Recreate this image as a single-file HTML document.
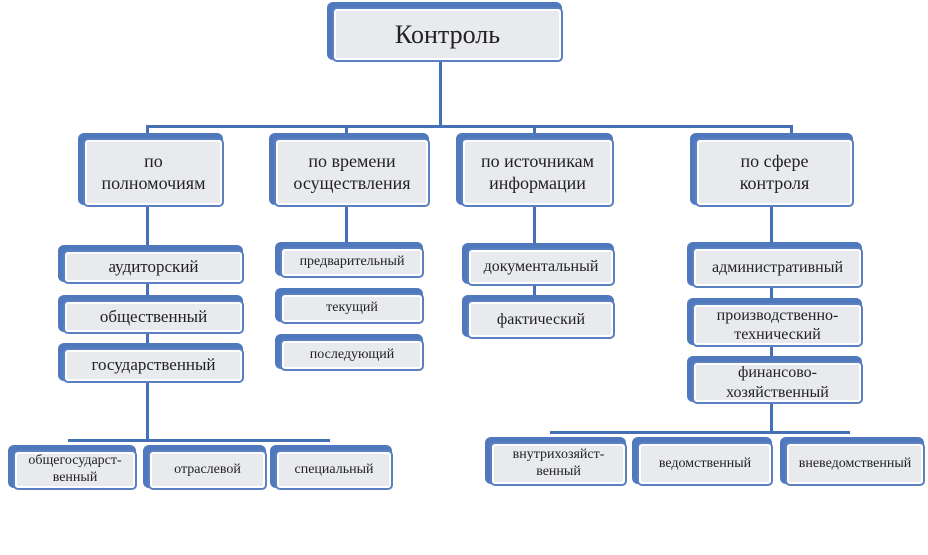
<!DOCTYPE html>
<html><head><meta charset="utf-8"><style>
body{margin:0;width:928px;height:555px;background:#fff;position:relative;overflow:hidden;font-family:"Liberation Serif","Noto Serif CJK SC",serif;color:#222}
.b{position:absolute;background:#4f78bd;border-radius:6px}
.b>div{position:absolute;left:5px;top:5px;right:-1px;bottom:-2px;border:2px solid #5a80c2;border-radius:5px;box-shadow:inset 0 0 0 2px #fff;background:#e8eaee;display:flex;align-items:center;justify-content:center;text-align:center;line-height:1.2}
.l{position:absolute;background:#4470b5}
</style></head><body>
<div class="l" style="left:439px;top:60px;width:3px;height:68px"></div>
<div class="l" style="left:146px;top:125px;width:647px;height:3px"></div>
<div class="l" style="left:146px;top:125px;width:3px;height:10px"></div>
<div class="l" style="left:345px;top:125px;width:3px;height:10px"></div>
<div class="l" style="left:533px;top:125px;width:3px;height:10px"></div>
<div class="l" style="left:790px;top:125px;width:3px;height:10px"></div>
<div class="l" style="left:146px;top:205px;width:3px;height:236px"></div>
<div class="l" style="left:345px;top:205px;width:3px;height:40px"></div>
<div class="l" style="left:533px;top:205px;width:3px;height:95px"></div>
<div class="l" style="left:770px;top:205px;width:3px;height:228px"></div>
<div class="l" style="left:68px;top:439px;width:262px;height:3px"></div>
<div class="l" style="left:550px;top:431px;width:300px;height:3px"></div>

<div class="b" style="left:327px;top:2px;width:235px;height:58px"><div style="font-size:26px">Контроль</div></div>

<div class="b" style="left:78px;top:133px;width:145px;height:72px"><div style="font-size:18px">по<br>полномочиям</div></div>
<div class="b" style="left:269px;top:133px;width:160px;height:72px"><div style="font-size:18px">по времени<br>осуществления</div></div>
<div class="b" style="left:456px;top:133px;width:157px;height:72px"><div style="font-size:18px">по источникам<br>информации</div></div>
<div class="b" style="left:690px;top:133px;width:163px;height:72px"><div style="font-size:18px">по сфере<br>контроля</div></div>

<div class="b" style="left:58px;top:245px;width:185px;height:37px"><div style="font-size:17px">аудиторский</div></div>
<div class="b" style="left:58px;top:295px;width:185px;height:37px"><div style="font-size:17px">общественный</div></div>
<div class="b" style="left:58px;top:343px;width:185px;height:38px"><div style="font-size:17px">государственный</div></div>

<div class="b" style="left:275px;top:242px;width:148px;height:34px"><div style="font-size:14px">предварительный</div></div>
<div class="b" style="left:275px;top:288px;width:148px;height:34px"><div style="font-size:14px">текущий</div></div>
<div class="b" style="left:275px;top:334px;width:148px;height:35px"><div style="font-size:14px">последующий</div></div>

<div class="b" style="left:462px;top:243px;width:152px;height:41px"><div style="font-size:16px">документальный</div></div>
<div class="b" style="left:462px;top:295px;width:152px;height:42px"><div style="font-size:16px">фактический</div></div>

<div class="b" style="left:687px;top:242px;width:175px;height:44px"><div style="font-size:16px">административный</div></div>
<div class="b" style="left:687px;top:298px;width:175px;height:47px"><div style="font-size:16px">производственно-<br>технический</div></div>
<div class="b" style="left:687px;top:356px;width:175px;height:46px"><div style="font-size:16px">финансово-<br>хозяйственный</div></div>

<div class="b" style="left:8px;top:445px;width:128px;height:43px"><div style="font-size:14px">общегосударст-<br>венный</div></div>
<div class="b" style="left:143px;top:445px;width:123px;height:43px"><div style="font-size:14px">отраслевой</div></div>
<div class="b" style="left:270px;top:445px;width:122px;height:43px"><div style="font-size:14px">специальный</div></div>

<div class="b" style="left:485px;top:437px;width:141px;height:47px"><div style="font-size:14px">внутрихозяйст-<br>венный</div></div>
<div class="b" style="left:632px;top:437px;width:140px;height:47px"><div style="font-size:14px">ведомственный</div></div>
<div class="b" style="left:780px;top:437px;width:144px;height:47px"><div style="font-size:14px">вневедомственный</div></div>
</body></html>
